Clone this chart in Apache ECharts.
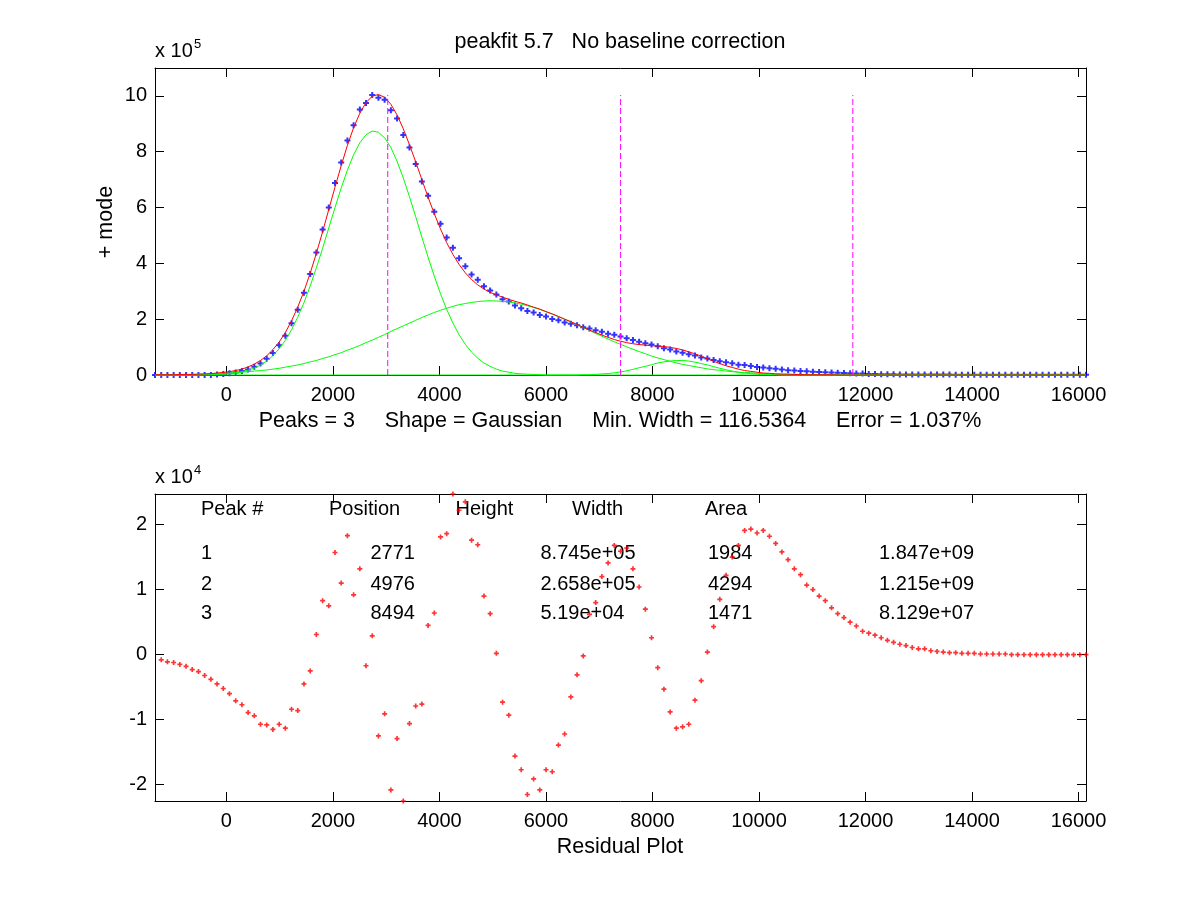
<!DOCTYPE html>
<html><head><meta charset="utf-8">
<script src="https://cdn.jsdelivr.net/npm/echarts@6/dist/echarts.min.js"></script>
<style>html,body{margin:0;padding:0;background:#fff}#c{width:1200px;height:900px}</style>
</head><body><div id="c"></div>
<script>
// x positions of the samples
const X = [-1340,-1223,-1107,-990,-874,-757,-641,-524,-408,-291,
-175,-58,58,175,292,408,525,641,758,874,
991,1107,1224,1340,1457,1574,1690,1807,1923,2040,
2156,2273,2389,2506,2622,2739,2855,2972,3089,3205,
3322,3438,3555,3671,3788,3904,4021,4137,4254,4370,
4487,4604,4720,4837,4953,5070,5186,5303,5419,5536,
5652,5769,5885,6002,6119,6235,6352,6468,6585,6701,
6818,6934,7051,7167,7284,7401,7517,7634,7750,7867,
7983,8100,8216,8333,8449,8566,8682,8799,8916,9032,
9149,9265,9382,9498,9615,9731,9848,9964,10081,10197,
10314,10431,10547,10664,10780,10897,11013,11130,11246,11363,
11479,11596,11712,11829,11946,12062,12179,12295,12412,12528,
12645,12761,12878,12994,13111,13228,13344,13461,13577,13694,
13810,13927,14043,14160,14276,14393,14510,14626,14743,14859,
14976,15092,15209,15325,15442,15558,15675,15792,15908,16025,
16141];
// measured data (x 10^5)
const DATA_Y = [0,0,0,0,0,0,0,0,0,0,
0.02,0.04,0.06,0.09,0.14,0.20,0.30,0.41,0.58,0.79,
1.07,1.41,1.85,2.34,2.95,3.62,4.39,5.21,6.00,6.88,
7.61,8.40,8.95,9.51,9.75,10.03,9.93,9.86,9.49,9.19,
8.60,8.15,7.56,6.93,6.42,5.85,5.42,4.93,4.56,4.18,
3.90,3.60,3.41,3.18,3.03,2.88,2.71,2.63,2.49,2.39,
2.29,2.24,2.15,2.10,2.01,1.96,1.88,1.84,1.78,1.71,
1.67,1.60,1.55,1.48,1.44,1.38,1.32,1.25,1.19,1.14,
1.09,1.03,0.96,0.91,0.84,0.80,0.74,0.70,0.63,0.59,
0.54,0.49,0.46,0.42,0.37,0.36,0.32,0.29,0.27,0.24,
0.22,0.20,0.17,0.16,0.14,0.13,0.12,0.11,0.10,0.09,
0.08,0.07,0.06,0.05,0.05,0.04,0.04,0.03,0.03,0.03,
0.02,0.02,0.02,0.02,0.02,0.02,0.02,0.02,0.02,0.01,
0.01,0.01,0.01,0.01,0.01,0.01,0.01,0.01,0.01,0.01,
0.01,0.01,0.01,0.01,0.01,0.01,0.01,0.01,0.01,0.01,
0.01];
// total fitted model (x 10^5)
const FIT_Y = [0.01,0.01,0.01,0.01,0.02,0.02,0.02,0.03,0.04,0.05,
0.07,0.09,0.12,0.16,0.21,0.29,0.39,0.52,0.69,0.91,
1.18,1.52,1.94,2.43,3.00,3.65,4.36,5.13,5.93,6.73,
7.50,8.23,8.86,9.38,9.76,9.99,10.05,9.95,9.70,9.32,
8.82,8.25,7.64,7.00,6.37,5.78,5.23,4.74,4.32,3.96,
3.66,3.42,3.23,3.08,2.96,2.87,2.79,2.71,2.64,2.58,
2.51,2.43,2.36,2.27,2.19,2.10,2.00,1.91,1.81,1.71,
1.61,1.52,1.43,1.35,1.27,1.21,1.16,1.12,1.09,1.07,
1.05,1.04,1.02,0.99,0.95,0.90,0.83,0.76,0.67,0.58,
0.49,0.41,0.33,0.27,0.21,0.16,0.13,0.10,0.07,0.06,
0.04,0.03,0.03,0.02,0.02,0.01,0.01,0.01,0.01,0.01,
0,0,0,0,0,0,0,0,0,0,
0,0,0,0,0,0,0,0,0,0,
0,0,0,0,0,0,0,0,0,0,
0,0,0,0,0,0,0,0,0,0,
0];
// individual peaks (x 10^5)
const PEAK1_Y = [0,0,0,0,0,0,0,0,0.01,0.01,
0.02,0.03,0.05,0.08,0.12,0.17,0.25,0.36,0.50,0.69,
0.94,1.24,1.62,2.07,2.59,3.19,3.84,4.54,5.27,6.00,
6.70,7.34,7.89,8.32,8.61,8.74,8.70,8.50,8.15,7.66,
7.06,6.39,5.67,4.94,4.22,3.54,2.91,2.35,1.86,1.44,
1.10,0.82,0.60,0.43,0.31,0.21,0.14,0.10,0.06,0.04,
0.03,0.02,0.01,0,0,0,0,0,0,0,
0,0,0,0,0,0,0,0,0,0,
0,0,0,0,0,0,0,0,0,0,
0,0,0,0,0,0,0,0,0,0,
0,0,0,0,0,0,0,0,0,0,
0,0,0,0,0,0,0,0,0,0,
0,0,0,0,0,0,0,0,0,0,
0,0,0,0,0,0,0,0,0,0,
0,0,0,0,0,0,0,0,0,0,
0];
const PEAK2_Y = [0.01,0.01,0.01,0.01,0.02,0.02,0.02,0.03,0.03,0.04,
0.05,0.06,0.07,0.08,0.10,0.12,0.14,0.16,0.18,0.21,
0.24,0.28,0.32,0.36,0.41,0.47,0.52,0.59,0.65,0.73,
0.80,0.89,0.97,1.06,1.16,1.25,1.35,1.45,1.56,1.66,
1.76,1.86,1.96,2.06,2.15,2.24,2.32,2.39,2.46,2.52,
2.56,2.60,2.63,2.65,2.66,2.65,2.64,2.62,2.58,2.54,
2.48,2.42,2.35,2.27,2.18,2.09,2.00,1.90,1.80,1.70,
1.60,1.49,1.39,1.29,1.19,1.10,1.01,0.92,0.84,0.76,
0.68,0.61,0.55,0.49,0.43,0.38,0.34,0.30,0.26,0.22,
0.19,0.17,0.14,0.12,0.10,0.09,0.08,0.06,0.05,0.04,
0.04,0.03,0.03,0.02,0.02,0.01,0.01,0.01,0.01,0.01,
0,0,0,0,0,0,0,0,0,0,
0,0,0,0,0,0,0,0,0,0,
0,0,0,0,0,0,0,0,0,0,
0,0,0,0,0,0,0,0,0,0,
0];
const PEAK3_Y = [0,0,0,0,0,0,0,0,0,0,
0,0,0,0,0,0,0,0,0,0,
0,0,0,0,0,0,0,0,0,0,
0,0,0,0,0,0,0,0,0,0,
0,0,0,0,0,0,0,0,0,0,
0,0,0,0,0,0,0,0,0,0,
0,0,0,0,0,0,0,0,0,0.01,
0.01,0.02,0.04,0.05,0.08,0.11,0.15,0.20,0.26,0.31,
0.37,0.43,0.47,0.50,0.52,0.52,0.50,0.46,0.41,0.36,
0.30,0.24,0.19,0.14,0.10,0.07,0.05,0.03,0.02,0.01,
0.01,0,0,0,0,0,0,0,0,0,
0,0,0,0,0,0,0,0,0,0,
0,0,0,0,0,0,0,0,0,0,
0,0,0,0,0,0,0,0,0,0,
0,0,0,0,0,0,0,0,0,0,
0];
// residuals (x 10^4) at X[1] .. X[150]
const RESID_Y = [-0.08,-0.11,-0.12,-0.15,-0.18,-0.23,-0.26,-0.32,-0.38,-0.45,
-0.52,-0.60,-0.71,-0.77,-0.89,-0.94,-1.07,-1.08,-1.15,-1.07,
-1.13,-0.84,-0.86,-0.45,-0.25,0.31,0.83,0.75,1.57,1.10,
1.83,0.92,1.32,-0.17,0.29,-1.25,-0.91,-2.08,-1.29,-2.25,
-1.06,-0.79,-0.76,0.45,0.64,1.81,1.86,2.47,2.22,2.35,
1.76,1.69,0.90,0.63,0.02,-0.73,-0.93,-1.56,-1.77,-2.15,
-1.91,-2.08,-1.77,-1.80,-1.39,-1.22,-0.65,-0.31,-0.02,0.62,
0.80,1.20,1.41,1.68,1.59,1.64,1.32,1.04,0.70,0.26,
-0.20,-0.53,-0.88,-1.13,-1.11,-1.07,-0.70,-0.40,0.04,0.43,
0.85,1.22,1.50,1.68,1.91,1.93,1.87,1.91,1.82,1.71,
1.58,1.46,1.32,1.23,1.07,1.00,0.90,0.83,0.72,0.63,
0.57,0.50,0.44,0.36,0.33,0.30,0.26,0.22,0.19,0.16,
0.14,0.11,0.09,0.09,0.06,0.05,0.04,0.03,0.03,0.02,
0.02,0.02,0.01,0.01,0.01,0.01,0.01,0,0,0,
0,0,0,0,0,0,0,0,0,0];
// starting-position markers
const START_X = [3030, 7402, 11763];
const START_TOP = 10.03;
// ticks
const X_TICKS = [0,2000,4000,6000,8000,10000,12000,14000,16000];
const Y_TICKS_TOP = [0,2,4,6,8,10];
const Y_TICKS_BOT = [-2,-1,0,1,2];
const Y_MAX_TOP = 11;
// texts
const TITLE = 'peakfit 5.7   No baseline correction';
const XLABEL_TOP = 'Peaks = 3     Shape = Gaussian     Min. Width = 116.5364     Error = 1.037%';
const YLABEL_TOP = '+ mode';
const XLABEL_BOT = 'Residual Plot';
const TABLE_HEAD = ['Peak #','Position','Height','Width','Area'];
const TABLE_ROWS = [
  ['1','2771','8.745e+05','1984','1.847e+09'],
  ['2','4976','2.658e+05','4294','1.215e+09'],
  ['3','8494','5.19e+04','1471','8.129e+07']
];

const FONT = '"Liberation Sans", Arial, Helvetica, sans-serif';
const chart = echarts.init(document.getElementById('c'), null, {renderer:'canvas', width:1200, height:900});
const pairs = (xs, ys) => xs.map((x, i) => [x, ys[i]]);
const XMIN = X[0], XMAX = X[X.length - 1];
const RMIN = Math.min(...RESID_Y), RMAX = Math.max(...RESID_Y);

function ax(pos, ticks, showLabel, margin) {
  return {
    type: 'value', position: pos,
    axisLine: {show: true, onZero: false, lineStyle: {color: '#000', width: 1}},
    axisTick: {show: true, inside: true, length: 9, customValues: ticks, lineStyle: {color: '#000', width: 1}},
    axisLabel: {show: showLabel, customValues: ticks, color: '#000', fontSize: 20, fontFamily: FONT, margin: margin || 8, formatter: v => String(v)},
    splitLine: {show: false}
  };
}
const PLUS = 'path://M2,0H4V2H6V4H4V6H2V4H0V2H2Z';

const series = [];
[PEAK1_Y, PEAK2_Y, PEAK3_Y].forEach(p => series.push({
  type: 'line', xAxisIndex: 0, yAxisIndex: 0, data: pairs(X, p), symbol: 'none', clip: false,
  lineStyle: {color: '#00ff00', width: 1}, silent: true
}));
series.push({type: 'line', xAxisIndex: 0, yAxisIndex: 0, data: pairs(X, FIT_Y), symbol: 'none', clip: false,
  lineStyle: {color: '#ff0000', width: 1}, silent: true});
START_X.forEach(sx => series.push({type: 'line', xAxisIndex: 0, yAxisIndex: 0, data: [[sx, 0], [sx, START_TOP]],
  symbol: 'none', clip: false, lineStyle: {color: '#ff00ff', width: 1, type: [6, 3]}, silent: true}));
series.push({type: 'scatter', xAxisIndex: 0, yAxisIndex: 0, data: pairs(X, DATA_Y), symbol: PLUS, symbolSize: 6,
  itemStyle: {color: '#0000ff'}, clip: false, silent: true});
series.push({type: 'scatter', xAxisIndex: 2, yAxisIndex: 2, data: pairs(X.slice(1), RESID_Y), symbol: PLUS, symbolSize: 5,
  itemStyle: {color: '#ff0000'}, clip: false, silent: true});

const graphic = [];
const txt = (x, y, text, size, align, extra) => graphic.push(Object.assign({type: 'text', x: x, y: y, silent: true,
  style: {text: text, fontSize: size, fontFamily: FONT, fill: '#000', align: align || 'center', verticalAlign: 'middle'}}, extra || {}));
txt(620, 42, TITLE, 21.5);
txt(155, 51, 'x 10', 20, 'left');
txt(194, 44, '5', 13, 'left');
txt(106, 222, YLABEL_TOP, 21.5, 'center', {rotation: Math.PI / 2});
txt(620, 421, XLABEL_TOP, 21.5);
txt(155, 477, 'x 10', 20, 'left');
txt(194, 470, '4', 13, 'left');
txt(620, 847, XLABEL_BOT, 21.5);
const HEAD_X = [201, 329, 455.5, 572, 705];
const ROW_X = [201, 370.5, 540.5, 708, 879];
const ROW_Y = [553.5, 584, 613];
TABLE_HEAD.forEach((h, k) => txt(HEAD_X[k], 509.5, h, 20, 'left'));
TABLE_ROWS.forEach((r, j) => r.forEach((c, k) => txt(ROW_X[k], ROW_Y[j], c, 20, 'left')));

chart.setOption({
  animation: false,
  backgroundColor: '#fff',
  grid: [
    {left: 155, top: 68, width: 931, height: 307},
    {left: 155, top: 494, width: 931, height: 307}
  ],
  xAxis: [
    Object.assign({gridIndex: 0, min: XMIN, max: XMAX}, ax('bottom', X_TICKS, true, 10)),
    Object.assign({gridIndex: 0, min: XMIN, max: XMAX}, ax('top', X_TICKS, false)),
    Object.assign({gridIndex: 1, min: XMIN, max: XMAX}, ax('bottom', X_TICKS, true, 10)),
    Object.assign({gridIndex: 1, min: XMIN, max: XMAX}, ax('top', X_TICKS, false))
  ],
  yAxis: [
    Object.assign({gridIndex: 0, min: 0, max: Y_MAX_TOP}, ax('left', Y_TICKS_TOP, true)),
    Object.assign({gridIndex: 0, min: 0, max: Y_MAX_TOP}, ax('right', Y_TICKS_TOP, false)),
    Object.assign({gridIndex: 1, min: RMIN, max: RMAX}, ax('left', Y_TICKS_BOT, true)),
    Object.assign({gridIndex: 1, min: RMIN, max: RMAX}, ax('right', Y_TICKS_BOT, false))
  ],
  series: series,
  graphic: graphic
});
</script></body></html>
